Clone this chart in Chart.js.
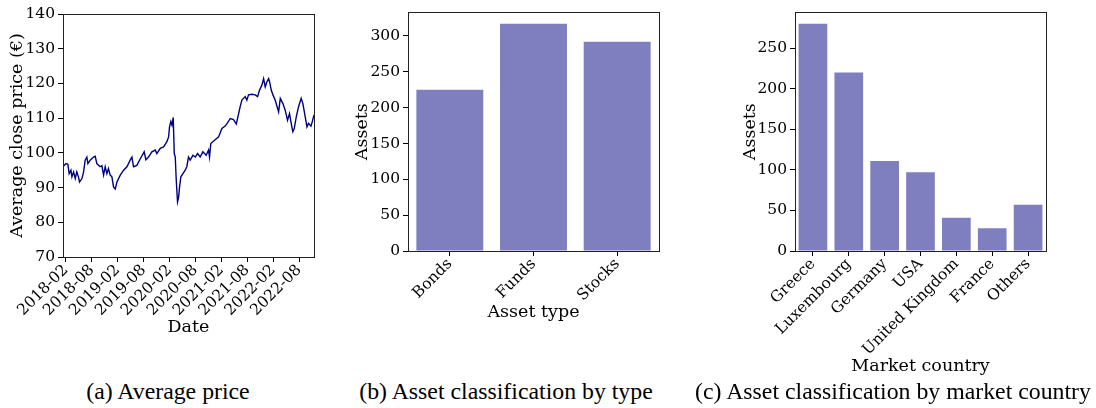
<!DOCTYPE html>
<html>
<head>
<meta charset="utf-8">
<script src="https://cdn.jsdelivr.net/npm/chart.js@4.4.0/dist/chart.umd.min.js"></script>
<style>
	body { margin: 0; background: #fff; width: 1096px; height: 408px; position: relative; overflow: hidden; }
	canvas { position: absolute; top: 0; }
	.cap { position: absolute; top: 378px; font-family: "Liberation Serif", serif; font-size: 23.8px; color: #000; white-space: nowrap; transform: translateX(-50%); }
</style>
</head>
<body>
<canvas id="priceChart" width="330" height="345" style="left:0"></canvas>
<canvas id="typeChart" width="330" height="345" style="left:340px"></canvas>
<canvas id="countryChart" width="406" height="385" style="left:690px"></canvas>
<div class="cap" style="left:168px">(a) Average price</div>
<div class="cap" style="left:506px">(b) Asset classification by type</div>
<div class="cap" style="left:893px">(c) Asset classification by market country</div>

<script>
// (a) average close price
var priceDates = ['2018-01-11','2018-02-01','2018-02-15','2018-02-24','2018-03-06','2018-03-13','2018-03-25','2018-04-06','2018-04-17','2018-04-29',
	'2018-05-06','2018-05-23','2018-06-04','2018-06-15','2018-06-27','2018-07-04','2018-07-20','2018-08-13','2018-08-25','2018-09-06',
	'2018-09-29','2018-10-11','2018-10-23','2018-11-04','2018-11-16','2018-11-27','2018-12-09','2018-12-21','2019-01-02','2019-01-14',
	'2019-01-26','2019-02-19','2019-03-12','2019-04-05','2019-04-28','2019-05-10','2019-05-21','2019-06-14','2019-07-08','2019-08-05',
	'2019-08-17','2019-09-05','2019-09-29','2019-10-22','2019-11-03','2019-11-27','2019-12-20','2020-01-13','2020-01-25','2020-02-01',
	'2020-02-10','2020-02-18','2020-02-27','2020-03-04','2020-03-11','2020-03-18','2020-03-27','2020-04-04','2020-04-11','2020-04-20',
	'2020-05-04','2020-05-20','2020-06-01','2020-06-13','2020-06-25','2020-07-14','2020-07-31','2020-08-16','2020-09-04','2020-09-23',
	'2020-10-16','2020-11-02','2020-11-09','2020-11-18','2020-12-18','2021-01-12','2021-02-05','2021-02-28','2021-03-15','2021-04-03',
	'2021-04-26','2021-05-15','2021-05-24','2021-06-12','2021-06-24','2021-07-17','2021-07-29','2021-08-10','2021-09-03','2021-09-27',
	'2021-10-13','2021-10-27','2021-11-13','2021-11-25','2021-12-06','2021-12-18','2021-12-30','2022-01-06','2022-01-18','2022-01-30',
	'2022-02-15','2022-03-09','2022-03-21','2022-04-09','2022-04-25','2022-05-11','2022-05-25','2022-06-11','2022-06-18','2022-06-28',
	'2022-07-12','2022-07-28','2022-08-16','2022-08-28','2022-09-14','2022-09-26','2022-10-07','2022-10-24','2022-11-03','2022-11-15'];
var priceValues = [96.0, 96.9, 96.7, 94.0, 95.0, 93.1, 94.5, 92.6, 94.5, 93.0,
	91.6, 92.6, 94.5, 97.9, 98.8, 96.9, 97.9, 98.8, 99.0, 96.9,
	96.0, 96.3, 93.6, 96.0, 94.0, 95.5, 93.6, 93.1, 90.2, 89.6,
	91.6, 93.6, 95.0, 96.0, 97.9, 98.8, 96.0, 96.4, 98.3, 100.3,
	98.0, 98.8, 100.3, 100.8, 99.8, 101.3, 101.7, 103.2, 104.6, 107.5,
	109.0, 108.0, 110.2, 99.8, 98.8, 92.1, 85.9, 87.2, 90.2, 93.1,
	94.0, 95.0, 96.0, 98.8, 97.9, 99.3, 98.8, 99.8, 98.8, 100.3,
	99.3, 100.8, 98.8, 102.7, 103.8, 104.6, 107.0, 107.7, 108.7, 109.9,
	109.6, 108.3, 109.9, 113.3, 115.2, 116.2, 115.2, 116.7, 116.9, 116.7,
	116.2, 118.1, 119.5, 121.4, 119.0, 120.5, 121.4, 120.5, 118.1, 116.7,
	115.2, 111.8, 115.7, 114.2, 112.3, 109.4, 111.3, 107.5, 106.1, 107.0,
	110.4, 113.3, 115.7, 114.2, 110.4, 107.5, 108.5, 107.7, 109.0, 110.9];
var dateTicks = ['2018-02','2018-08','2019-02','2019-08','2020-02','2020-08','2021-02','2021-08','2022-02','2022-08'];

// (b) assets by type
var assetTypes = ['Bonds', 'Funds', 'Stocks'];
var typeCounts = [225, 317, 292];

// (c) assets by market country
var countries = ['Greece', 'Luxembourg', 'Germany', 'USA', 'United Kingdom', 'France', 'Others'];
var countryCounts = [280, 220, 111, 97, 41, 28, 57];

var serif = '"DejaVu Serif", serif';
var barColor = 'rgba(0, 0, 128, 0.5)';

// months since 2018-02-01
function toMonths(s) {
	var p = s.split('-').map(Number);
	var d = p[2] || 1;
	return (p[0] - 2018) * 12 + (p[1] - 2) + (d - 1) / 30.44;
}

// box around plot area like matplotlib spines
var framePlugin = {
	id: 'frame',
	afterDraw: function(chart) {
		var a = chart.chartArea, c = chart.ctx;
		c.save();
		c.strokeStyle = '#222';
		c.lineWidth = 1;
		c.strokeRect(Math.round(a.left) + 0.5, Math.round(a.top) + 0.5, Math.round(a.right - a.left), Math.round(a.bottom - a.top));
		c.restore();
	}
};

function axisTitle(text) {
	return { display: true, text: text, color: '#000', font: { family: serif, size: 17.5 } };
}
function tickGrid() {
	return { drawOnChartArea: false, drawTicks: true, tickLength: 5, color: '#000' };
}

Chart.defaults.font.family = serif;
Chart.defaults.color = '#000';

new Chart(document.getElementById('priceChart'), {
	type: 'line',
	plugins: [framePlugin],
	data: {
		datasets: [{
			data: priceDates.map(function(d, i) { return { x: toMonths(d), y: priceValues[i] }; }),
			borderColor: '#000080',
			borderWidth: 1.4,
			pointRadius: 0,
			lineTension: 0,
			fill: false
		}]
	},
	options: {
		responsive: false,
		animation: false,
		layout: { padding: { left: 3, top: 14, right: 16, bottom: 3 } },
		plugins: { legend: { display: false }, tooltip: { enabled: false } },
		scales: {
			x: {
				type: 'linear',
				min: toMonths(priceDates[0]),
				max: toMonths(priceDates[priceDates.length - 1]),
				grid: tickGrid(),
				border: { display: false },
				title: axisTitle('Date'),
				afterBuildTicks: function(s) { s.ticks = dateTicks.map(function(t) { return { value: toMonths(t) }; }); },
				afterFit: function(s) { s.height = 85; },
				ticks: {
					font: { size: 15.5 }, padding: -1, minRotation: 45, maxRotation: 45, autoSkip: false,
					callback: function(v, i) { return dateTicks[i]; }
				}
			},
			y: {
				min: 70, max: 140,
				grid: tickGrid(),
				border: { display: false },
				title: axisTitle('Average close price (€)'),
				afterFit: function(s) { s.width = 60; },
				ticks: { stepSize: 10, font: { size: 15.5 }, padding: 3 }
			}
		}
	}
});

function barChart(id, labels, values, yMax, pad, yWidth, xHeight) {
	return new Chart(document.getElementById(id), {
		type: 'bar',
		plugins: [framePlugin],
		data: {
			labels: labels,
			datasets: [{ data: values, backgroundColor: barColor, barPercentage: 0.8, categoryPercentage: 1 }]
		},
		options: {
			responsive: false,
			animation: false,
			layout: { padding: pad },
			plugins: { legend: { display: false }, tooltip: { enabled: false } },
			scales: {
				x: {
					grid: Object.assign(tickGrid(), { offset: false }),
					border: { display: false },
					title: axisTitle(id == 'typeChart' ? 'Asset type' : 'Market country'),
					afterFit: function(s) { s.height = xHeight; },
					ticks: { font: { size: 15.5 }, padding: -1, minRotation: 45, maxRotation: 45, autoSkip: false }
				},
				y: {
					min: 0, max: yMax,
					grid: tickGrid(),
					border: { display: false },
					title: axisTitle('Assets'),
					afterFit: function(s) { s.width = yWidth; },
					ticks: { stepSize: 50, includeBounds: false, font: { size: 15.5 }, padding: 3 }
				}
			}
		}
	});
}

barChart('typeChart', assetTypes, typeCounts, 333, { left: 8, top: 7, right: 11, bottom: 18 }, 60, 76);
barChart('countryChart', countries, countryCounts, 294, { left: 46, top: 7, right: 50, bottom: 4 }, 59, 130);
</script>
</body>
</html>
